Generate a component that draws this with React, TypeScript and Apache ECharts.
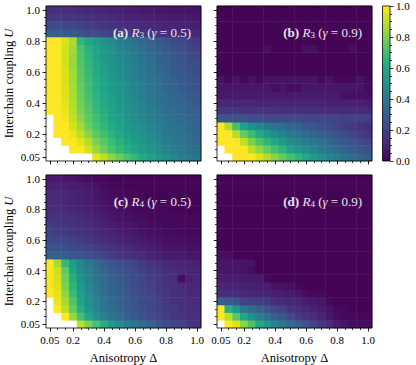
import React, { useEffect, useRef } from "react";
import * as echarts from "echarts";

// Category values (cell centres)
const deltaCats = ["0.05","0.10","0.15","0.20","0.25","0.30","0.35","0.40","0.45","0.50","0.55","0.60","0.65","0.70","0.75","0.80","0.85","0.90","0.95","1.00"];
const uCats = ["0.05","0.10","0.15","0.20","0.25","0.30","0.35","0.40","0.45","0.50","0.55","0.60","0.65","0.70","0.75","0.80","0.85","0.90","0.95","1.00"];
const majorTickCats = ["0.05","0.20","0.40","0.60","0.80","1.00"];
const majorTickLabels = ["0.05","0.2","0.4","0.6","0.8","1.0"];
const colorbarTicks = [0, 0.2, 0.4, 0.6, 0.8, 1.0];

const n = null;
// rows: U = 0.05 (first) ... U = 1.00 (last); columns: Δ = 0.05 ... 1.00
const r3g05 = [
  [n,n,n,n,n,n,.96,.9,.83,.77,.71,.66,.61,.57,.53,.5,.46,.43,.41,.38],
  [n,n,n,1,1,.93,.84,.77,.71,.66,.62,.58,.54,.51,.48,.45,.42,.4,.37,.35],
  [n,n,1,1,.96,.88,.8,.74,.68,.63,.59,.55,.52,.49,.46,.43,.4,.38,.36,.34],
  [n,1,1,.97,.9,.82,.75,.69,.64,.6,.56,.53,.5,.47,.44,.41,.39,.37,.35,.33],
  [n,1,1,.93,.85,.77,.71,.66,.61,.57,.54,.51,.48,.45,.42,.4,.38,.36,.34,.32],
  [n,1,.98,.91,.82,.75,.69,.64,.59,.56,.52,.49,.46,.43,.41,.39,.36,.34,.33,.31],
  [1,1,.97,.89,.8,.73,.67,.62,.58,.54,.51,.48,.45,.42,.4,.37,.35,.33,.31,.3],
  [1,1,.96,.88,.78,.71,.65,.61,.57,.53,.5,.47,.44,.41,.38,.36,.34,.32,.3,.28],
  [1,1,.95,.87,.77,.7,.64,.6,.56,.52,.49,.46,.43,.4,.37,.35,.33,.31,.29,.27],
  [1,1,.95,.86,.76,.69,.63,.59,.55,.51,.48,.45,.42,.39,.36,.34,.32,.29,.27,.25],
  [1,1,.94,.85,.75,.68,.62,.58,.54,.5,.47,.44,.41,.38,.35,.33,.3,.28,.26,.24],
  [1,1,.94,.85,.74,.67,.61,.57,.53,.49,.46,.43,.4,.37,.34,.32,.29,.27,.25,.23],
  [1,1,.93,.84,.73,.66,.6,.56,.52,.48,.45,.42,.39,.36,.33,.31,.28,.26,.24,.22],
  [1,1,.93,.84,.72,.65,.59,.55,.51,.47,.44,.41,.38,.35,.32,.3,.27,.25,.23,.21],
  [1,1,.93,.85,.71,.63,.58,.54,.5,.46,.43,.4,.37,.34,.31,.29,.26,.24,.21,.19],
  [1,1,.94,.87,.66,.59,.55,.51,.47,.43,.4,.37,.34,.31,.28,.26,.23,.21,.19,.17],
  [.3,.3,.29,.28,.25,.23,.22,.21,.2,.19,.18,.17,.16,.15,.14,.14,.13,.12,.12,.11],
  [.22,.22,.21,.2,.19,.18,.17,.16,.15,.14,.13,.13,.12,.11,.11,.1,.1,.09,.09,.08],
  [.17,.17,.16,.16,.15,.14,.13,.13,.12,.11,.1,.1,.09,.09,.08,.08,.07,.07,.07,.06],
  [.14,.14,.13,.13,.12,.11,.1,.1,.09,.09,.08,.08,.07,.07,.06,.06,.05,.05,.05,.05],
];
const r3g09 = [
  [n,n,1,1,1,.95,.88,.82,.76,.7,.65,.6,.55,.5,.46,.42,.38,.35,.31,.28],
  [n,1,1,1,.9,.83,.76,.7,.65,.58,.53,.49,.45,.41,.38,.35,.32,.29,.26,.24],
  [1,1,1,.9,.8,.72,.65,.6,.54,.49,.46,.42,.39,.36,.33,.3,.27,.25,.22,.2],
  [1,1,.88,.76,.68,.6,.54,.49,.44,.4,.38,.35,.32,.3,.27,.25,.22,.2,.18,.16],
  [1,.87,.7,.57,.5,.46,.41,.38,.36,.33,.31,.28,.26,.24,.22,.2,.18,.17,.15,.14],
  [.26,.26,.25,.25,.24,.24,.23,.23,.22,.22,.22,.21,.21,.21,.2,.2,.19,.19,.19,.18],
  [.16,.16,.16,.15,.15,.15,.15,.15,.14,.14,.14,.14,.14,.13,.13,.13,.12,.12,.12,.12],
  [.11,.11,.11,.11,.11,.1,.1,.1,.1,.1,.1,.1,.1,.1,.09,.09,.09,.09,.09,.08],
  [.07,.07,.07,.07,.07,.07,.07,.07,.07,.07,.07,.07,.07,.07,.07,.07,.04,.04,.04,.04],
  [.06,.06,.06,.06,.06,.06,.06,.03,.06,.03,.03,.06,.06,.06,.06,.06,.06,.06,.06,.03],
  [.05,.02,.05,.02,.05,.02,.05,.05,.05,.05,.05,.05,.05,.02,.05,.02,.02,.02,.05,.02],
  [.01,.01,.01,.01,.01,.01,.01,.01,.01,.01,.01,.01,.01,.01,.01,.01,.01,.01,.01,.01],
  [.01,.01,.01,.01,.01,.01,.01,.01,.01,.01,.01,.01,.01,.01,.01,.01,.01,.01,.01,.01],
  [.01,.01,.01,.01,.01,.01,.01,.01,.01,.01,.01,.01,.01,.01,.01,.01,.01,.01,.01,.01],
  [.01,.01,.01,.01,.01,.01,.04,.01,.01,.01,.01,.04,.04,.01,.01,.01,.01,.04,.01,.01],
  [.01,.01,.01,.01,.01,.01,.01,.01,.01,.01,.01,.01,.01,.01,.01,.01,.01,.01,.01,.01],
  [.01,.01,.01,.01,.01,.01,.01,.01,.01,.01,.01,.01,.01,.01,.01,.01,.01,.01,.01,.01],
  [.01,.01,.01,.01,.01,.01,.01,.01,.01,.01,.01,.01,.01,.01,.01,.01,.01,.01,.01,.01],
  [.01,.01,.01,.01,.01,.01,.01,.01,.01,.01,.01,.01,.01,.01,.01,.01,.01,.01,.01,.01],
  [.01,.01,.01,.01,.01,.01,.01,.01,.01,.01,.01,.01,.01,.01,.01,.01,.01,.01,.01,.01],
];
const r4g05 = [
  [n,n,n,n,.9,.8,.71,.62,.55,.48,.43,.39,.35,.31,.27,.24,.21,.19,.16,.14],
  [n,n,1,.84,.7,.59,.5,.44,.39,.35,.31,.28,.25,.22,.2,.18,.16,.15,.14,.14],
  [n,1,.9,.76,.62,.52,.46,.4,.36,.32,.29,.26,.24,.21,.19,.17,.16,.14,.13,.13],
  [n,.97,.86,.72,.58,.5,.44,.38,.34,.31,.28,.25,.23,.21,.19,.17,.15,.14,.13,.12],
  [1,.96,.83,.68,.56,.48,.42,.37,.33,.3,.27,.24,.22,.2,.18,.16,.14,.13,.11,.12],
  [1,.95,.8,.65,.53,.46,.41,.36,.32,.29,.26,.23,.21,.19,.17,.15,.14,.12,.11,.11],
  [1,.94,.78,.62,.51,.44,.39,.35,.31,.28,.25,.23,.21,.18,.17,.15,.13,.03,.09,.11],
  [1,.92,.75,.59,.49,.42,.37,.33,.29,.26,.24,.22,.19,.17,.16,.14,.13,.12,.11,.1],
  [1,.86,.67,.55,.46,.4,.35,.31,.27,.24,.22,.19,.17,.15,.14,.12,.11,.1,.1,.09],
  [.31,.3,.29,.27,.26,.24,.22,.2,.18,.16,.14,.13,.12,.1,.09,.08,.07,.07,.06,.06],
  [.26,.25,.24,.22,.21,.2,.18,.16,.15,.13,.12,.1,.09,.08,.07,.06,.05,.05,.04,.04],
  [.22,.21,.2,.19,.18,.16,.15,.13,.12,.1,.09,.08,.07,.06,.05,.04,.04,.03,.03,.03],
  [.19,.18,.17,.16,.15,.14,.12,.11,.1,.08,.07,.06,.05,.04,.04,.03,.03,.02,.02,.02],
  [.17,.16,.15,.14,.13,.12,.1,.09,.08,.07,.06,.05,.04,.03,.03,.02,.02,.02,.02,.02],
  [.15,.15,.14,.13,.12,.1,.09,.08,.06,.05,.04,.03,.03,.02,.02,.02,.02,.02,.02,.02],
  [.13,.13,.12,.11,.1,.09,.08,.06,.05,.04,.03,.02,.02,.02,.02,.02,.01,.01,.01,.01],
  [.12,.12,.11,.1,.09,.08,.06,.05,.04,.03,.02,.02,.02,.01,.01,.01,.01,.01,.01,.01],
  [.12,.12,.11,.1,.09,.08,.06,.04,.03,.02,.02,.01,.01,.01,.01,.01,.01,.01,.01,.01],
  [.09,.1,.09,.08,.08,.07,.05,.03,.02,.02,.01,.01,.01,.01,.01,.01,.01,.01,.01,.01],
  [.07,.07,.06,.06,.04,.03,.02,.02,.01,.01,.01,.01,.01,.01,.01,.01,.01,.01,.01,.01],
];
const r4g09 = [
  [n,1,.95,.83,.72,.6,.53,.46,.4,.35,.3,.25,.2,.16,.12,.08,.06,.03,.03,.03],
  [1,.9,.74,.6,.5,.43,.37,.31,.26,.22,.18,.15,.13,.1,.06,.04,.02,.02,.02,.02],
  [1,.63,.52,.4,.35,.31,.26,.21,.19,.15,.13,.11,.09,.07,.05,.02,.02,.01,.01,.01],
  [.3,.28,.26,.2,.19,.18,.17,.13,.12,.11,.1,.08,.07,.06,.02,.01,.01,.01,.01,.01],
  [.14,.13,.13,.12,.11,.1,.1,.09,.08,.07,.06,.03,.02,.02,.01,.01,.01,.01,.01,.01],
  [.11,.1,.1,.09,.09,.08,.08,.05,.05,.04,.02,.01,.01,.01,.01,.01,.01,.01,.01,.01],
  [.08,.08,.08,.07,.07,.07,.02,.01,.01,.01,.01,.01,.01,.01,.01,.01,.01,.01,.01,.01],
  [.06,.06,.06,.05,.03,.01,.01,.01,.01,.01,.01,.01,.01,.01,.01,.01,.01,.01,.01,.01],
  [.06,.06,.06,.05,.05,.01,.01,.01,.01,.01,.01,.01,.01,.01,.01,.01,.01,.01,.01,.01],
  [.04,.04,.01,.01,.01,.01,.01,.01,.01,.01,.01,.01,.01,.01,.01,.01,.01,.01,.01,.01],
  [.01,.01,.01,.01,.01,.01,.01,.01,.01,.01,.01,.01,.01,.01,.01,.01,.01,.01,.01,.01],
  [.01,.01,.01,.01,.01,.01,.01,.01,.01,.01,.01,.01,.01,.01,.01,.01,.01,.01,.01,.01],
  [.01,.01,.01,.01,.01,.01,.01,.01,.01,.01,.01,.01,.01,.01,.01,.01,.01,.01,.01,.01],
  [.01,.01,.01,.01,.01,.01,.01,.01,.01,.01,.01,.01,.01,.01,.01,.01,.01,.01,.01,.01],
  [.01,.01,.01,.01,.01,.01,.01,.01,.01,.01,.01,.01,.01,.01,.01,.01,.01,.01,.01,.01],
  [.01,.01,.01,.01,.01,.01,.01,.01,.01,.01,.01,.01,.01,.01,.01,.01,.01,.01,.01,.01],
  [.01,.01,.01,.01,.01,.01,.01,.01,.01,.01,.01,.01,.01,.01,.01,.01,.01,.01,.01,.01],
  [.01,.01,.01,.01,.01,.01,.01,.01,.01,.01,.01,.01,.01,.01,.01,.01,.01,.01,.01,.01],
  [.01,.01,.01,.01,.01,.01,.01,.01,.01,.01,.01,.01,.01,.01,.01,.01,.01,.01,.01,.01],
  [.01,.01,.01,.01,.01,.01,.01,.01,.01,.01,.01,.01,.01,.01,.01,.01,.01,.01,.01,.01],
];

const panelTags = ["(a)", "(b)", "(c)", "(d)"];
const panelSubs = ["3", "3", "4", "4"];
const panelGammas = ["0.5", "0.9", "0.5", "0.9"];

const viridis = [
  "#440154","#471365","#482475","#46337f","#414487","#3b528b","#355f8d","#2f6c8e","#2a788e","#25848e","#21918c",
  "#1e9c89","#22a884","#2fb47c","#44bf70","#5ec962","#7ad151","#9fda3a","#bddf26","#dde318","#fde725",
];

const FONT = "'Liberation Serif', 'DejaVu Serif', serif";

const grids = [
  { left: 46, top: 6, width: 155, height: 155 },
  { left: 217, top: 6, width: 155, height: 155 },
  { left: 46, top: 175, width: 155, height: 155 },
  { left: 217, top: 175, width: 155, height: 155 },
];
const cbGrid = { left: 382.5, top: 6, width: 7.5, height: 155 };

function buildOption() {
  const panels = [r3g05, r3g09, r4g05, r4g09];
  const isMajor = (v: string) => majorTickCats.indexOf(v) >= 0;
  const fmt = (v: string) => {
    const i = majorTickCats.indexOf(v);
    return i >= 0 ? majorTickLabels[i] : "";
  };
  const xAxis: any[] = [];
  const yAxis: any[] = [];
  const series: any[] = [];
  const graphic: any[] = [];
  panels.forEach((rows, p) => {
    const bottom = p >= 2;
    const left = p % 2 === 0;
    const tickStyle = { color: "#000", width: 0.8 };
    xAxis.push({
      type: "category", gridIndex: p, data: deltaCats, position: "bottom",
      axisLine: { show: false },
      axisTick: { show: true, alignWithLabel: true, interval: 0, length: 2, lineStyle: tickStyle },
      axisLabel: {
        show: bottom, interval: (i: number, v: string) => isMajor(v), formatter: fmt,
        color: "#000", fontFamily: FONT, fontSize: 11, margin: 6,
      },
      splitLine: { show: false },
      name: bottom ? "Anisotropy Δ" : "", nameLocation: "middle", nameGap: 23,
      nameTextStyle: { color: "#000", fontFamily: FONT, fontSize: 12.5 },
    });
    xAxis.push({
      type: "category", gridIndex: p, data: deltaCats, position: "bottom",
      axisLine: { show: false },
      axisTick: { show: true, alignWithLabel: true, interval: (i: number, v: string) => isMajor(v), length: 3.5, lineStyle: tickStyle },
      axisLabel: { show: false }, splitLine: { show: false },
    });
    yAxis.push({
      type: "category", gridIndex: p, data: uCats, position: "left",
      axisLine: { show: false },
      axisTick: { show: true, alignWithLabel: true, interval: 0, length: 2, lineStyle: tickStyle },
      axisLabel: {
        show: left, interval: (i: number, v: string) => isMajor(v), formatter: fmt,
        color: "#000", fontFamily: FONT, fontSize: 11, margin: 6,
      },
      splitLine: { show: false },
      name: left ? "Interchain coupling {i|U}" : "", nameLocation: "middle", nameGap: 31, nameRotate: 90,
      nameTextStyle: { color: "#000", fontFamily: FONT, fontSize: 12.5, rich: { i: { fontStyle: "italic", fontFamily: FONT, fontSize: 12.5, color: "#000" } } },
    });
    yAxis.push({
      type: "category", gridIndex: p, data: uCats, position: "left",
      axisLine: { show: false },
      axisTick: { show: true, alignWithLabel: true, interval: (i: number, v: string) => isMajor(v), length: 3.5, lineStyle: tickStyle },
      axisLabel: { show: false }, splitLine: { show: false },
    });
    const data: any[] = [];
    rows.forEach((row, yi) => {
      row.forEach((v, xi) => {
        if (v !== null) data.push([xi, yi, v]);
      });
    });
    series.push({
      type: "heatmap", xAxisIndex: 2 * p, yAxisIndex: 2 * p, data, silent: true,
      emphasis: { disabled: true },
    });
    const g = grids[p];
    const FS = 13;
    graphic.push({
      type: "text", x: g.left + g.width - 10, y: g.top + 26, z: 100,
      style: {
        text: `{b|${panelTags[p]}} {i|R}{s|${panelSubs[p]}}{n| (}{i|γ}{n| = ${panelGammas[p]})}`,
        align: "right", verticalAlign: "middle", textAlign: "right", textVerticalAlign: "middle",
        fill: "#e6e6e6",
        rich: {
          b: { fontFamily: FONT, fontSize: FS, fontWeight: "bold", fill: "#e6e6e6", lineHeight: 15 },
          i: { fontFamily: FONT, fontSize: FS, fontStyle: "italic", fill: "#e6e6e6", lineHeight: 15 },
          n: { fontFamily: FONT, fontSize: FS, fill: "#e6e6e6", lineHeight: 15 },
          s: { fontFamily: FONT, fontSize: 9, fill: "#e6e6e6", verticalAlign: "bottom", lineHeight: 10 },
        },
      },
    });
  });
  // colorbar axes
  xAxis.push({ type: "category", gridIndex: 4, data: ["cb"], show: false });
  yAxis.push({
    type: "value", gridIndex: 4, min: colorbarTicks[0], max: colorbarTicks[colorbarTicks.length - 1], interval: 0.2, position: "right",
    axisLine: { show: false },
    axisTick: { show: true, length: 3.5, lineStyle: { color: "#000", width: 0.8 } },
    minorTick: { show: true, splitNumber: 4, length: 2, lineStyle: { color: "#000", width: 0.8 } },
    axisLabel: { color: "#000", fontFamily: FONT, fontSize: 11, margin: 6, formatter: (v: number) => v.toFixed(1) },
    splitLine: { show: false },
  });
  series.push({
    type: "bar", xAxisIndex: 8, yAxisIndex: 8, data: [colorbarTicks[colorbarTicks.length - 1]], barWidth: "100%", silent: true,
    itemStyle: {
      color: new echarts.graphic.LinearGradient(0, 1, 0, 0, viridis.map((c, i) => ({ offset: i / (viridis.length - 1), color: c }))),
    },
  });
  const allGrids = [...grids, cbGrid].map((g) => ({
    ...g, show: true, borderColor: "#000", borderWidth: 0.8, backgroundColor: "transparent", z: 10, containLabel: false,
  }));
  return {
    animation: false,
    backgroundColor: "#fff",
    grid: allGrids,
    xAxis, yAxis, series, graphic,
    visualMap: { type: "continuous", min: 0, max: 1, show: false, seriesIndex: [0, 1, 2, 3], inRange: { color: viridis } },
  };
}

export default function App() {
  const ref = useRef<HTMLDivElement>(null);
  useEffect(() => {
    const chart = echarts.init(ref.current!, null, { renderer: "svg" });
    chart.setOption(buildOption() as any);
    return () => chart.dispose();
  }, []);
  return <div ref={ref} style={{ width: 416, height: 365, position: "absolute", left: 0, top: 0 }} />;
}
